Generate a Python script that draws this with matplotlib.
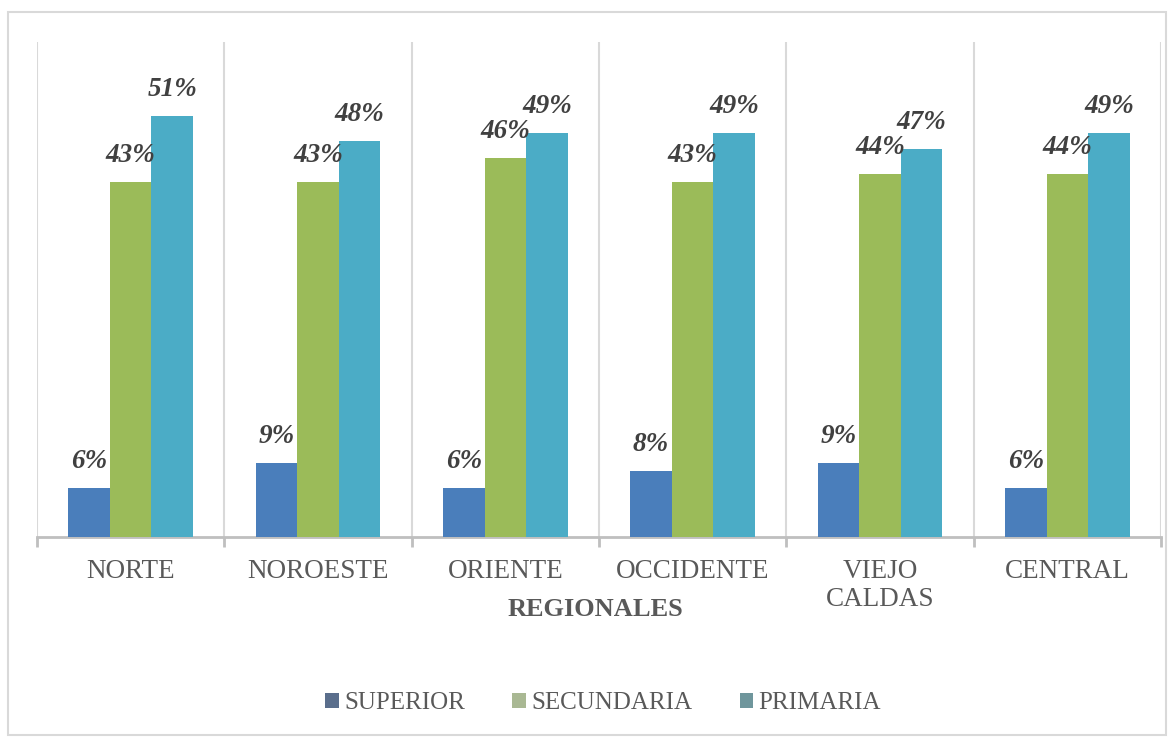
import matplotlib
matplotlib.use("Agg")
import matplotlib.pyplot as plt
import numpy as np
from matplotlib.patches import Rectangle, Patch

categories = ["NORTE", "NOROESTE", "ORIENTE", "OCCIDENTE", "VIEJO\nCALDAS", "CENTRAL"]
series_names = ["SUPERIOR", "SECUNDARIA", "PRIMARIA"]
superior = [6, 9, 6, 8, 9, 6]
secundaria = [43, 43, 46, 43, 44, 44]
primaria = [51, 48, 49, 49, 47, 49]

bar_colors = ["#4A7EBB", "#9BBB59", "#4BACC6"]
legend_colors = ["#5A6E8C", "#A9B893", "#6F969C"]

plt.rcParams['font.family'] = ['Liberation Serif', 'DejaVu Serif']

fig = plt.figure(figsize=(11.74, 7.38), dpi=100)
# outer border
fig.patches.append(Rectangle((8/1174, 1-735/738), (1166-8)/1174, (735-12)/738,
                             transform=fig.transFigure, fill=False,
                             edgecolor="#D9D9D9", linewidth=1.5, zorder=0))

ax = fig.add_axes([37/1174, 1-537/738, (1161-37)/1174, (537-42)/738])
n = len(categories)
x = np.arange(n)
w = 0.222
data = [superior, secundaria, primaria]
offsets = [-w, 0, w]
for vals, off, col in zip(data, offsets, bar_colors):
    bars = ax.bar(x + off, vals, width=w, color=col, edgecolor="none", zorder=3)
    for b, v in zip(bars, vals):
        ax.annotate(f"{v}%", (b.get_x() + b.get_width()/2, b.get_height()),
                    xytext=(0, 10), textcoords="offset points",
                    ha="center", va="bottom", fontsize=19.5, fontweight="bold",
                    fontstyle="italic", color="#404040", zorder=4)

ax.set_xlim(-0.5, n - 0.5)
ax.set_ylim(0, 60)
for s in ["top", "right", "left"]:
    ax.spines[s].set_visible(False)
ax.spines["bottom"].set_color("#BFBFBF")
ax.spines["bottom"].set_linewidth(2)
ax.set_yticks([])
for b in np.arange(-0.5, n, 1.0):
    ax.axvline(b, color="#D9D9D9", linewidth=1.5, zorder=1)
ax.set_xticks(np.arange(-0.5, n, 1.0), minor=False)
ax.set_xticklabels([])
ax.tick_params(axis="x", which="major", length=7, width=2, color="#BFBFBF")
ax.set_xticks(x, minor=True)
ax.set_xticklabels(categories, minor=True, fontsize=19.5, color="#595959", linespacing=1.15)
ax.tick_params(axis="x", which="minor", length=0, pad=16)

fig.text(595/1174, 1-609/738, "REGIONALES", ha="center", va="center",
         fontsize=19, fontweight="bold", color="#595959")

handles = [Patch(facecolor=c, edgecolor="none") for c in legend_colors]
fig.legend(handles, series_names, loc="center", bbox_to_anchor=(603/1174, 1-703/738),
           ncol=3, frameon=False, fontsize=18, handlelength=0.55, handleheight=0.55,
           handletextpad=0.2, columnspacing=1.9, labelcolor="#595959")

fig.savefig("out.png", dpi=100)
